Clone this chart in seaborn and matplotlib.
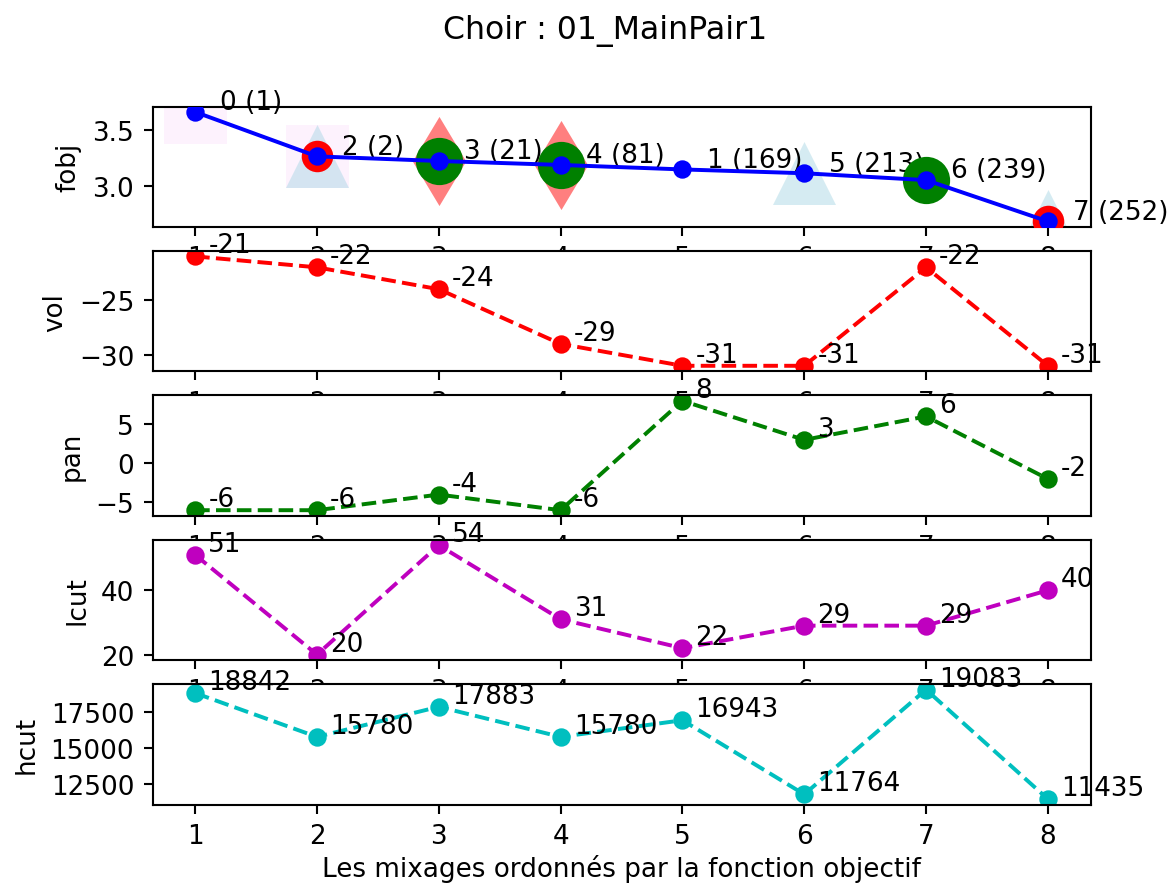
import matplotlib
matplotlib.use("Agg")
import matplotlib.pyplot as plt
import seaborn as sns
import pandas as pd

# Mixes sorted by objective function value
rang = [1, 2, 3, 4, 5, 6, 7, 8]
mix_ids = [0, 2, 3, 4, 1, 5, 6, 7]
mix_ranks = [1, 2, 21, 81, 169, 213, 239, 252]
fobj = [3.661, 3.266, 3.225, 3.190, 3.150, 3.116, 3.055, 2.688]
vol = [-21, -22, -24, -29, -31, -31, -22, -31]
pan = [-6, -6, -4, -6, 8, 3, 6, -2]
lcut = [51, 20, 54, 31, 22, 29, 29, 40]
hcut = [18842, 15780, 17883, 15780, 16943, 11764, 19083, 11435]

# Flags shown behind the objective curve
flag_square = [1, 2]
flag_triangle = [2, 6, 8]
flag_diamond = [3, 4]
flag_green = [3, 4, 7]
flag_red = [2, 8]

df = pd.DataFrame({"rang": rang, "fobj": fobj, "vol": vol, "pan": pan,
                   "lcut": lcut, "hcut": hcut})

DPI = 189
fig, axes = plt.subplots(5, 1, figsize=(1168 / DPI, 886 / DPI), dpi=DPI)
fig.subplots_adjust(left=152.5 / 1168, right=1090.5 / 1168,
                    top=1 - 107.5 / 886, bottom=1 - 805.5 / 886, hspace=0.2)
fig.suptitle("Choir : 01_MainPair1", x=605 / 1168, y=0.983)

ax = axes[0]


def flag_layer(ax, xs, marker, size, color, alpha, z):
    sub = df[df["rang"].isin(xs)]
    sns.scatterplot(data=sub, x="rang", y="fobj", ax=ax, marker=marker,
                    s=size ** 2, color=color, alpha=alpha, linewidth=0,
                    zorder=z, legend=False)


flag_layer(ax, flag_square, "s", 24, "violet", 0.1, 1)
flag_layer(ax, flag_triangle, "^", 24, "lightblue", 0.5, 2)
flag_layer(ax, flag_diamond, "d", 24, "red", 0.5, 3)
flag_layer(ax, flag_green, "o", 18, "green", 1.0, 4)
flag_layer(ax, flag_red, "o", 12, "red", 1.0, 5)
sns.lineplot(data=df, x="rang", y="fobj", ax=ax, color="b", marker="o",
             markersize=6, markeredgecolor="b", markeredgewidth=1,
             linestyle="-", zorder=6)
for xv, yv, m, r in zip(rang, fobj, mix_ids, mix_ranks):
    ax.annotate(f"{m} ({r})", (xv, yv), xytext=(9.5, 1),
                textcoords="offset points", fontsize=10)
ax.set_ylabel("fobj")

panels = [("vol", vol, "r"), ("pan", pan, "g"), ("lcut", lcut, "m"),
          ("hcut", hcut, "c")]
for ax, (name, values, col) in zip(axes[1:], panels):
    sns.lineplot(data=df, x="rang", y=name, ax=ax, color=col, marker="o",
                 markersize=6, markeredgecolor=col, markeredgewidth=1,
                 linestyle="--")
    for xv, yv in zip(rang, values):
        ax.annotate(f"{yv}", (xv, yv), xytext=(5, 1.5),
                    textcoords="offset points", fontsize=10)
    ax.set_ylabel(name)

for ax in axes:
    ax.set_xticks(rang)
    ax.set_xlabel("")
axes[-1].set_xlabel("Les mixages ordonnés par la fonction objectif",
                    labelpad=2)

fig.savefig("out.png", dpi=DPI)
